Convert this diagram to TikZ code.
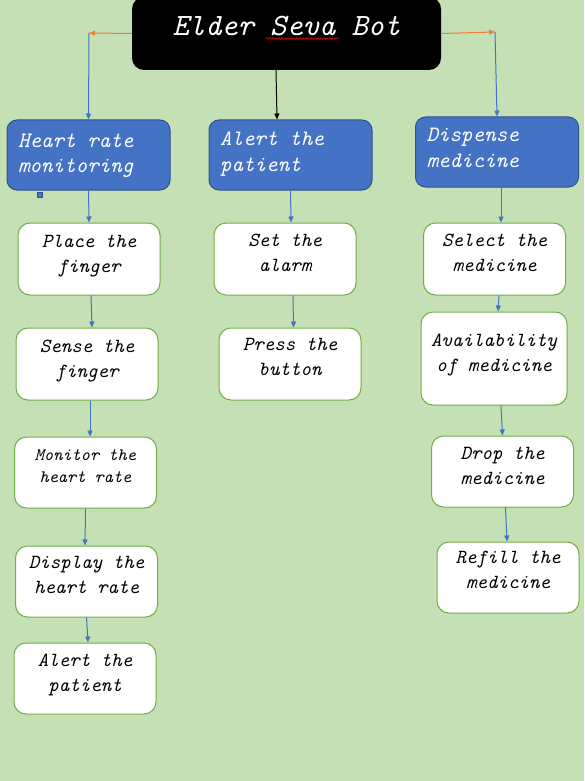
\documentclass[tikz,border=0pt]{standalone}
\usepackage{fontspec}
\usetikzlibrary{arrows.meta,decorations.pathmorphing}
\definecolor{bgc}{HTML}{C5E0B4}
\definecolor{bluefill}{HTML}{4472C4}
\definecolor{blueline}{HTML}{2F528F}
\definecolor{greenline}{HTML}{70AD47}
\definecolor{conblue}{HTML}{4472C4}
\definecolor{conorange}{HTML}{ED7D31}
\newcommand\twoc[2]{\begin{tabular}[t]{@{}c@{}}#1\\#2\end{tabular}}
\newcommand\twol[2]{\makebox[163pt][l]{\hspace{11pt}\begin{tabular}[t]{@{}l@{}}#1\\#2\end{tabular}}}
\tikzset{
  titlebox/.style={fill=black, rounded corners=12pt, inner sep=0pt, text=white,
    font=\fontsize{31}{36}\selectfont\ttfamily\itshape},
  bluebox/.style={draw=blueline, fill=bluefill, line width=1pt, rounded corners=10pt,
    inner sep=0pt, minimum width=163pt, text=white,
    font=\fontsize{22}{25}\selectfont\ttfamily\itshape},
  whitebox/.style={draw=greenline, fill=white, line width=1pt, rounded corners=12pt,
    inner sep=0pt, minimum width=142pt, text=black,
    font=\fontsize{20}{25}\selectfont\ttfamily\itshape},
  bconn/.style={draw=conblue, line width=1pt, -{Triangle[length=6pt,width=5pt]}},
  oconn/.style={draw=conorange, line width=1pt, -{Triangle[length=6pt,width=5pt]}},
  kconn/.style={draw=black, line width=1pt, -{Triangle[length=6pt,width=5pt]}},
}
\begin{document}
\begin{tikzpicture}[x=1pt,y=-1pt]
\useasboundingbox (0,0) rectangle (584,781);
\fill[bgc] (0,0) rectangle (584,781);

% title
\node[titlebox, minimum width=309pt, text height=39pt, text depth=34pt] (title) at (286.5,33.5) {Elder Seva Bot};
\draw[red, line width=0.6pt, decorate, decoration={snake, amplitude=0.8pt, segment length=3pt}] (266,38.5) -- (338,38.5);

% level 1
\node[bluebox, text height=27pt, text depth=43pt] (heart) at (88.5,155) {\twol{Heart rate}{monitoring}};
\node[bluebox, text height=26pt, text depth=44pt] (alert) at (290.5,155) {\twol{Alert the}{patient}};
\node[bluebox, minimum width=162pt, text height=25pt, text depth=45pt] (disp) at (497,152) {\twol{Dispense}{medicine}};
\node[draw=blueline, fill=bluefill, line width=0.6pt, minimum size=4.5pt, inner sep=0pt] (handle) at (40,195) {};

% left column
\node[whitebox, text height=24pt, text depth=48pt] (place) at (89,259) {\twoc{Place the}{finger}};
\node[whitebox, text height=24pt, text depth=48pt] (sense) at (87,364) {\twoc{Sense the}{finger}};
\node[whitebox, text height=23pt, text depth=48pt, font=\fontsize{17.5}{22}\selectfont\ttfamily\itshape] (monitor) at (85.5,472.5) {\twoc{Monitor the}{heart rate}};
\node[whitebox, text height=22pt, text depth=49pt] (display) at (86.5,581.5) {\twoc{Display the}{heart rate}};
\node[whitebox, text height=23pt, text depth=48pt] (alertp) at (85,678.5) {\twoc{Alert the}{patient}};

% middle column
\node[whitebox, text height=23pt, text depth=49pt] (setal) at (285,259) {\twoc{Set the}{alarm}};
\node[whitebox, text height=22pt, text depth=50pt] (press) at (290,364) {\twoc{Press the}{button}};

% right column
\node[whitebox, text height=23pt, text depth=49pt] (select) at (494.5,259) {\twoc{Select the}{medicine}};
\node[whitebox, minimum width=146pt, text height=34pt, text depth=59pt] (avail) at (494,358.5) {\twoc{Availability}{of medicine}};
\node[whitebox, text height=23pt, text depth=48pt] (drop) at (502.5,471.5) {\twoc{Drop the}{medicine}};
\node[whitebox, text height=21pt, text depth=50pt] (refill) at (508,577.5) {\twoc{Refill the}{medicine}};

% connectors from title
\coordinate (hl) at (89,33);
\coordinate (hr) at (495,32);
\draw[oconn] (title.west) -- (hl);
\draw[bconn] (hl) -- (heart.north);
\draw[oconn] (title.east) -- (hr);
\draw[bconn] (hr) -- (disp.north);
\draw[kconn] ([xshift=-10.5pt]title.south) -- ([xshift=-13.5pt]alert.north);

% left chain
\draw[bconn] (heart.south) -- (place.north);
\draw[bconn] ([xshift=2pt]place.south) -- ([xshift=5pt]sense.north);
\draw[bconn] ([xshift=3pt]sense.south) -- ([xshift=4.5pt]monitor.north);
\draw[bconn] (monitor.south) -- ([xshift=-1.5pt]display.north);
\draw[bconn] (display.south) -- ([xshift=3pt]alertp.north);

% middle chain
\draw[bconn] (alert.south) -- ([xshift=6pt]setal.north);
\draw[bconn] ([xshift=8pt]setal.south) -- ([xshift=3.5pt]press.north);

% right chain
\draw[bconn] ([xshift=4pt]disp.south) -- ([xshift=6.5pt]select.north);
\draw[bconn] ([xshift=4.5pt]select.south) -- ([xshift=4pt]avail.north);
\draw[bconn] ([xshift=7pt]avail.south) -- (drop.north);
\draw[bconn] ([xshift=3pt]drop.south) -- ([xshift=-1pt]refill.north);
\end{tikzpicture}
\end{document}
